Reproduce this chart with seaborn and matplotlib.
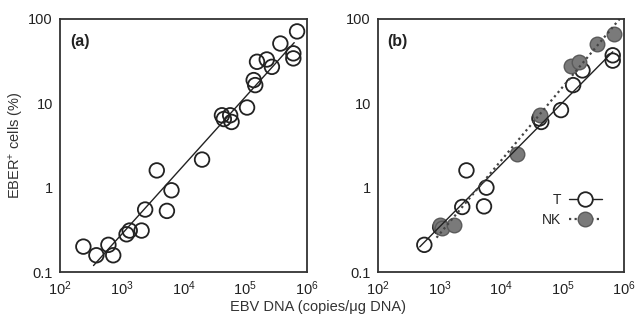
import matplotlib
matplotlib.use("Agg")
import matplotlib.pyplot as plt
from matplotlib.lines import Line2D
from matplotlib.ticker import FixedLocator, FixedFormatter, NullLocator
import numpy as np
import pandas as pd
import seaborn as sns

# panel (a): all patients
a_dna = [240, 390, 610, 730, 1200, 1350, 2100, 2400, 3700, 5400, 6400, 20000,
         42000, 45000, 57000, 60000, 107000, 137000, 145000, 155000, 223000,
         270000, 370000, 600000, 600000, 690000]
a_eber = [0.20, 0.158, 0.21, 0.158, 0.28, 0.31, 0.31, 0.55, 1.6, 0.53, 0.93, 2.15,
          7.2, 6.5, 7.2, 6.0, 8.9, 18.8, 16.4, 31, 33,
          27, 51, 39, 34, 71]

# panel (b): T and NK
t_dna = [570, 1030, 2350, 2750, 5300, 5800, 42000, 45000, 94000, 148000, 210000, 650000, 650000]
t_eber = [0.21, 0.34, 0.59, 1.6, 0.6, 1.0, 6.6, 6.0, 8.3, 16.4, 24.5, 37, 32]
nk_dna = [1030, 1100, 1750, 18000, 43000, 138000, 185000, 360000, 680000]
nk_eber = [0.36, 0.33, 0.36, 2.5, 7.2, 28, 31, 51, 66]

# x ranges over which the fitted lines are drawn
a_fit_range = [350, 620000]
t_fit_range = [480, 650000]
nk_fit_range = [900, 1000000]

yticks = [0.1, 1, 10, 100]
yticklabels = ["0.1", "1", "10", "100"]

sns.set_theme(style="ticks")
plt.rcParams["font.family"] = ["Liberation Sans", "DejaVu Sans"]
plt.rcParams["mathtext.default"] = "regular"

fig = plt.figure(figsize=(6.37, 3.25), dpi=100)
ax1 = fig.add_axes([0.094, 0.163, 0.388, 0.779])
ax2 = fig.add_axes([0.593, 0.163, 0.387, 0.779])


def fit_line(x, y, xr):
    # straight line in log-log space
    k, b = np.polyfit(np.log10(x), np.log10(y), 1)
    xs = np.log10(np.array(xr))
    return 10 ** xs, 10 ** (k * xs + b)


def style_ax(ax, label):
    ax.set_xscale("log")
    ax.set_yscale("log")
    ax.set_xlim(1e2, 1e6)
    ax.set_ylim(0.1, 100)
    ax.yaxis.set_major_locator(FixedLocator(yticks))
    ax.yaxis.set_major_formatter(FixedFormatter(yticklabels))
    ax.xaxis.set_minor_locator(NullLocator())
    ax.yaxis.set_minor_locator(NullLocator())
    ax.tick_params(length=0, labelsize=10.5, pad=5, colors="#222222")
    for s in ax.spines.values():
        s.set_linewidth(1.3)
        s.set_color("#333333")
    ax.set_xlabel("")
    ax.set_ylabel("")
    ax.text(0.04, 0.94, label, transform=ax.transAxes, fontsize=11.5,
            fontweight="bold", va="top", ha="left", color="#222222")


# ---- panel (a) ----
lx, ly = fit_line(a_dna, a_eber, a_fit_range)
ax1.plot(lx, ly, color="#222222", lw=1.0)
sns.scatterplot(x=a_dna, y=a_eber, ax=ax1, marker="o", s=110,
                facecolor="none", edgecolor="#222222", linewidth=1.3)
style_ax(ax1, "(a)")
ax1.set_ylabel("EBER$^{+}$ cells (%)", fontsize=10.5, color="#333333", labelpad=2)

# ---- panel (b) ----
tx, ty = fit_line(t_dna, t_eber, t_fit_range)
nx, ny = fit_line(nk_dna, nk_eber, nk_fit_range)
ax2.plot(tx, ty, color="#222222", lw=1.0)
ax2.plot(nx, ny, color="#444444", lw=1.6, linestyle=(0, (1, 1.5)))
sns.scatterplot(x=t_dna, y=t_eber, ax=ax2, marker="o", s=110,
                facecolor="none", edgecolor="#222222", linewidth=1.3)
sns.scatterplot(x=nk_dna, y=nk_eber, ax=ax2, marker="o", s=110,
                facecolor="#7a7a7a", edgecolor="#5a5a5a", linewidth=1.0)
style_ax(ax2, "(b)")

handles = [
    Line2D([], [], color="#222222", lw=1.0, marker="o", markersize=10.5,
           markerfacecolor="white", markeredgecolor="#222222", markeredgewidth=1.3),
    Line2D([], [], color="#444444", lw=1.6, linestyle=(0, (1, 1.5)), marker="o",
           markersize=10.5, markerfacecolor="#7a7a7a", markeredgecolor="#5a5a5a"),
]
ax2.legend(handles, ["T", "NK"], loc="center right", bbox_to_anchor=(0.96, 0.245),
           frameon=False, markerfirst=False, handlelength=2.4, fontsize=10,
           handletextpad=0.5, labelspacing=0.45)

fig.text(0.50, 0.035, "EBV DNA (copies/\u03bcg DNA)", ha="center", va="bottom",
         fontsize=10.5, color="#333333")

fig.savefig("out.png", dpi=100)
